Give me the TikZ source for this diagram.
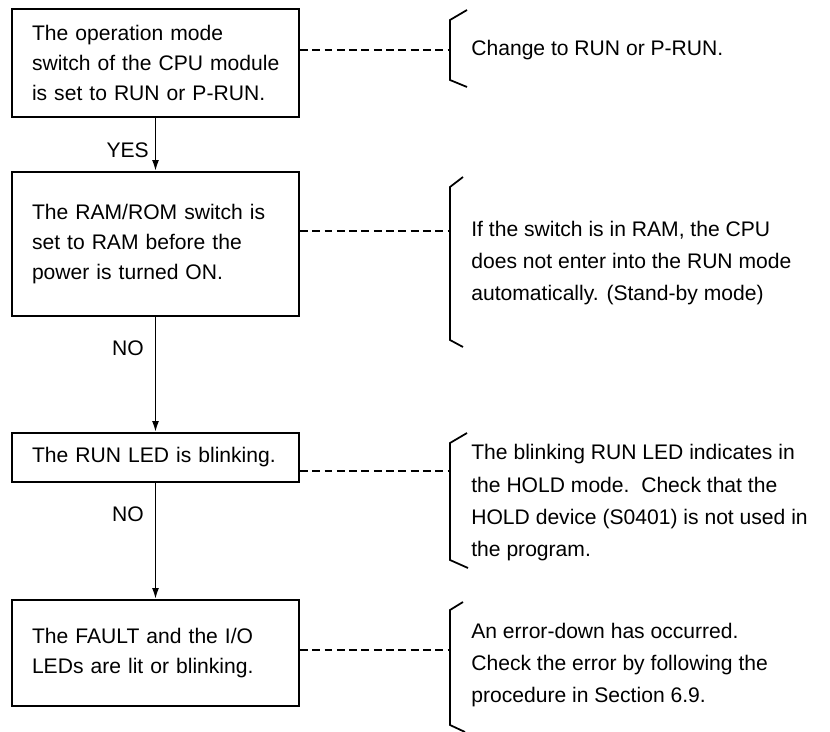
\documentclass[tikz,border=0pt]{standalone}
\usepackage{fontspec}
\setmainfont{Liberation Sans}
\usetikzlibrary{arrows.meta}

\begin{document}
\begin{tikzpicture}[font=\fontsize{12}{17}\selectfont,
  chk/.style={draw,line width=1.1pt,text width=4.94cm,inner xsep=0.4cm,inner ysep=0pt,align=left},
  flow/.style={line width=1pt,-{Latex[length=2.2mm,width=1.4mm]}},
  lead/.style={line width=1pt,dash pattern=on 4.5pt off 2.5pt},
  brace/.style={line width=1pt},
  note/.style={anchor=west,align=left,inner sep=0pt,font=\fontsize{12}{18.4}\selectfont}]
  \useasboundingbox (0,0) rectangle (16.6,-14.64);
  \node[chk,minimum height=2.16cm] (mode) at (3.11,-1.26) {The operation mode\\\mbox{switch of the CPU module}\\is set to RUN or P-RUN.};
  \node[chk,minimum height=2.88cm] (ramrom) at (3.11,-4.88) {The RAM/ROM switch is\\set to RAM before the\\power is turned ON.};
  \node[chk,minimum height=0.98cm] (runled) at (3.11,-9.15) {\mbox{The RUN LED is blinking.}};
  \node[chk,minimum height=2.12cm] (fault) at (3.11,-13.06) {The FAULT and the I/O\\LEDs are lit or blinking.};
  \draw[flow] (mode) -- node[left,pos=0.6] (yes) {YES} (ramrom);
  \draw[flow] (ramrom) -- node[left,pos=0.27,xshift=-0.1cm] (no1) {NO} (runled);
  \draw[flow] (runled) -- node[left,pos=0.27,xshift=-0.1cm] (no2) {NO} (fault);
  \coordinate (b1) at (9,-1.0);
  \coordinate (b2) at (9,-4.62);
  \coordinate (b3) at (9,-9.42);
  \coordinate (b4) at (9,-13.0);
  \draw[lead] (mode.east |- b1) -- (b1);
  \draw[lead] (ramrom.east |- b2) -- (b2);
  \draw[lead] (runled.east |- b3) -- (b3);
  \draw[lead] (fault.east |- b4) -- (b4);
  \draw[brace] (9.34,-0.2) -- (9,-0.4) -- (9,-1.6) -- (9.34,-1.74);
  \draw[brace] (9.26,-3.54) -- (9,-3.74) -- (9,-6.8) -- (9.26,-6.94);
  \draw[brace] (9.34,-8.66) -- (9,-8.86) -- (9,-11.2) -- (9.36,-11.36);
  \draw[brace] (9.26,-12.04) -- (9,-12.2) -- (9,-14.5) -- (9.3,-14.64);
  \node[note] (chg) at (9.42,-1.0) {Change to RUN or P-RUN.};
  \node[note] (stby) at (9.42,-5.26) {If the switch is in RAM, the CPU\\does not enter into the RUN mode\\automatically. (Stand-by mode)};
  \node[note] (hold) at (9.42,-10.06) {The blinking RUN LED indicates in\\the HOLD mode.\ \ Check that the\\HOLD device (S0401) is not used in\\the program.};
  \node[note] (err) at (9.42,-13.3) {An error-down has occurred.\\Check the error by following the\\procedure in Section 6.9.};
\end{tikzpicture}
\end{document}
